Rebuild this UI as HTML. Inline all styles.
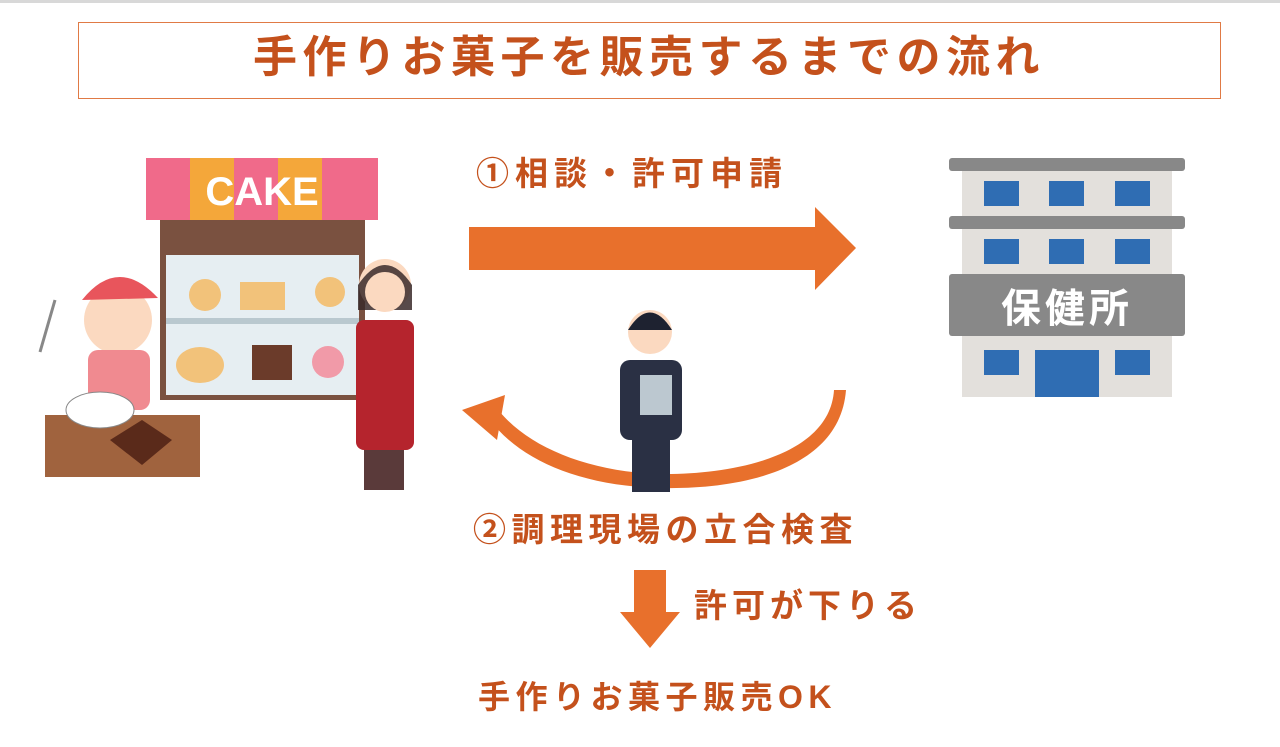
<!DOCTYPE html>
<html><head><meta charset="utf-8"><style>
body{margin:0;width:1280px;height:747px;background:#fff;overflow:hidden;position:relative;font-family:"Liberation Sans","Noto Sans CJK JP",sans-serif}
.t{position:absolute;color:#c4511c;font-weight:bold;white-space:nowrap;line-height:1}
</style></head><body>
<div style="position:absolute;left:0;top:0;width:1280px;height:3px;background:#d8d8d8"></div>
<div style="position:absolute;left:78px;top:22px;width:1141px;height:75px;border:1.5px solid #e07a45"></div>
<div class="t" style="left:253px;top:36px;font-size:44px;letter-spacing:5.5px">手作りお菓子を販売するまでの流れ</div>
<div class="t" style="left:476px;top:157px;font-size:33px;letter-spacing:6px">①相談・許可申請</div>
<div class="t" style="left:473px;top:513px;font-size:33px;letter-spacing:5.5px">②調理現場の立合検査</div>
<div class="t" style="left:694px;top:589px;font-size:33px;letter-spacing:5px">許可が下りる</div>
<div class="t" style="left:478px;top:681px;font-size:32px;letter-spacing:5.5px">手作りお菓子販売OK</div>
<svg width="1280" height="747" style="position:absolute;left:0;top:0">
<polygon points="469,227 815,227 815,207 856,248 815,290 815,270 469,270" fill="#e8702c"/>
<path d="M846,390 C840,470 740,490 660,488 C580,486 520,460 490,420 L500,412 C530,448 590,472 660,474 C735,475 830,455 834,390 Z" fill="#e8702c"/>
<polygon points="462,410 505,395 497,440" fill="#e8702c"/>
<polygon points="634,570 666,570 666,612 680,612 650,648 620,612 634,612" fill="#e8702c"/>
<rect x="962" y="165" width="210" height="232" fill="#e3e0dc"/>
<rect x="949" y="158" width="236" height="13" rx="3" fill="#888"/>
<rect x="949" y="216" width="236" height="13" rx="3" fill="#888"/>
<rect x="949" y="274" width="236" height="62" rx="3" fill="#888"/>
<text x="1067" y="322" font-size="40" font-weight="bold" fill="#fff" text-anchor="middle" letter-spacing="4" font-family="Noto Sans CJK JP,sans-serif">保健所</text>
<g fill="#2f6db3">
<rect x="984" y="181" width="35" height="25"/><rect x="1049" y="181" width="35" height="25"/><rect x="1115" y="181" width="35" height="25"/>
<rect x="984" y="239" width="35" height="25"/><rect x="1049" y="239" width="35" height="25"/><rect x="1115" y="239" width="35" height="25"/>
<rect x="984" y="350" width="35" height="25"/><rect x="1115" y="350" width="35" height="25"/>
<rect x="1035" y="350" width="64" height="47"/>
</g>
<rect x="160" y="215" width="205" height="185" fill="#7a5140"/>
<rect x="166" y="255" width="193" height="140" fill="#e6eef2"/>
<rect x="166" y="318" width="193" height="6" fill="#b9c8cf"/>
<rect x="146" y="158" width="232" height="62" fill="#f06a8a"/>
<g fill="#f4a73a"><rect x="190" y="158" width="44" height="62"/><rect x="278" y="158" width="44" height="62"/></g>
<text x="262" y="205" font-size="40" font-weight="bold" fill="#fff" text-anchor="middle">CAKE</text>
<g fill="#f2c27a"><circle cx="205" cy="295" r="16"/><rect x="240" y="282" width="45" height="28"/><circle cx="330" cy="292" r="15"/><ellipse cx="200" cy="365" rx="24" ry="18"/><rect x="252" y="345" width="40" height="35" fill="#6b3b2a"/><circle cx="328" cy="362" r="16" fill="#f19aa8"/></g>
<rect x="45" y="415" width="155" height="62" fill="#a0633e"/>
<circle cx="118" cy="320" r="34" fill="#fbd9c0"/>
<path d="M82,300 Q118,255 158,298 Z" fill="#e8555c"/>
<rect x="88" y="350" width="62" height="60" rx="10" fill="#f08a90"/>
<ellipse cx="100" cy="410" rx="34" ry="18" fill="#ffffff" stroke="#888"/>
<path d="M110,440 L142,420 L172,440 L142,465 Z" fill="#5a2a1a"/>
<line x1="40" y1="352" x2="55" y2="300" stroke="#888" stroke-width="3"/>
<circle cx="385" cy="285" r="26" fill="#fbd9c0"/>
<path d="M358,285 Q385,245 412,285 L412,310 L358,310 Z" fill="#3a2a2a" opacity=".85"/>
<circle cx="385" cy="292" r="20" fill="#fbd9c0"/>
<rect x="356" y="320" width="58" height="130" rx="8" fill="#b5242d"/>
<rect x="364" y="450" width="40" height="40" fill="#5a3a3a"/>
<circle cx="650" cy="332" r="22" fill="#fbd9c0"/>
<path d="M628,330 Q650,295 672,330 Z" fill="#1e2230"/>
<rect x="620" y="360" width="62" height="80" rx="10" fill="#2a3044"/>
<rect x="640" y="375" width="32" height="40" fill="#bcc8d0"/>
<rect x="632" y="440" width="38" height="52" fill="#2a3044"/>
</svg>
</body></html>
